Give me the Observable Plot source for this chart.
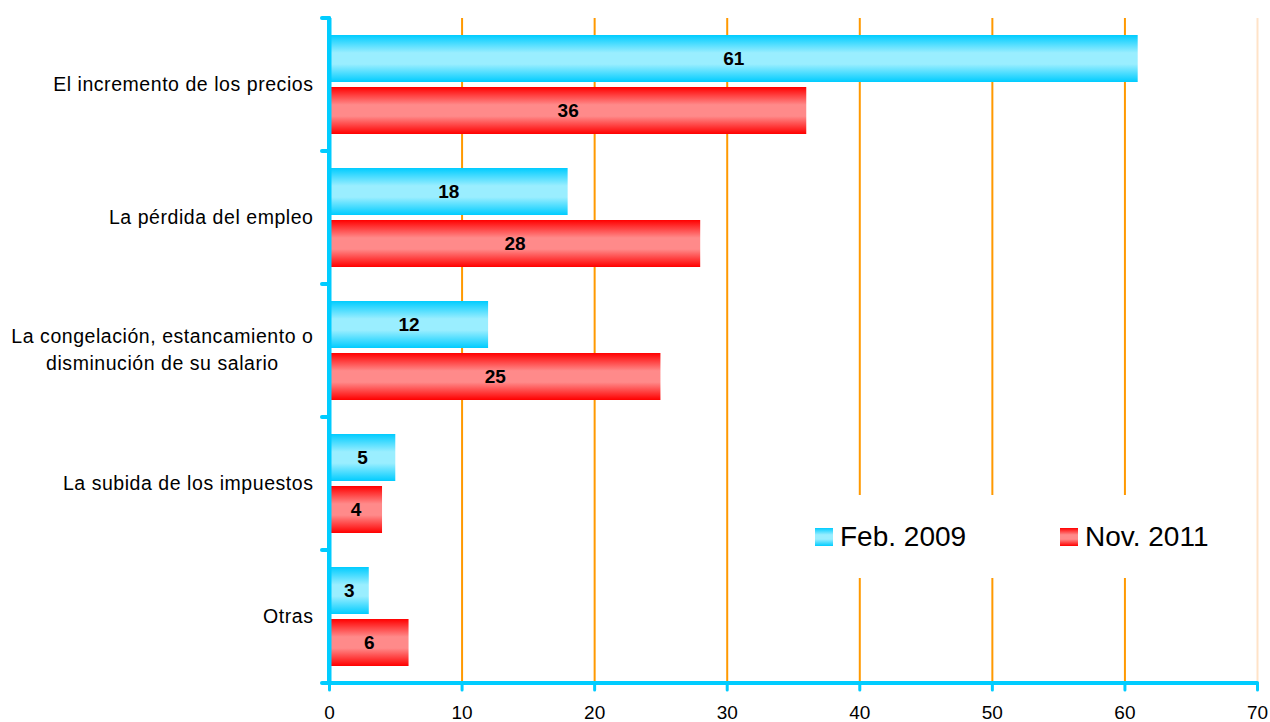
<!DOCTYPE html>
<html><head><meta charset="utf-8">
<script src="https://cdn.jsdelivr.net/npm/d3@7"></script>
<script src="https://cdn.jsdelivr.net/npm/@observablehq/plot@0.6"></script>
<style>
body{margin:0;background:#fff;font-family:"Liberation Sans",Arial,sans-serif;}
#wrap{position:relative;width:1270px;height:722px;overflow:hidden;}
#legend{position:absolute;left:800px;top:495px;width:440px;height:83px;background:#fff;}
.item{position:absolute;top:0;height:83px;display:flex;align-items:center;font-size:28px;color:#000;}
.sw{width:18px;height:18px;margin-right:7px;}
</style></head><body><div id="wrap"></div>
<script>
const categories = [
  "El incremento de los precios",
  "La pérdida del empleo",
  "La congelación, estancamiento o\ndisminución de su salario",
  "La subida de los impuestos",
  "Otras"
];
const series = ["Feb. 2009", "Nov. 2011"];
const feb2009 = [61, 18, 12, 5, 3];
const nov2011 = [36, 28, 25, 4, 6];
const xTicks = [0, 10, 20, 30, 40, 50, 60, 70];
const gridTicks = [10, 20, 30, 40, 50, 60];
const edgeTicks = [70];

const data = categories.flatMap((c, i) => [
  {category: c, series: series[0], value: feb2009[i]},
  {category: c, series: series[1], value: nov2011[i]}
]);

(function() {
const font = '"Liberation Sans", Arial, sans-serif';
const plot = Plot.plot({
  width: 1270, height: 722,
  marginLeft: 329, marginRight: 13, marginTop: 17, marginBottom: 38,
  style: {fontFamily: font, background: "white", color: "black", overflow: "visible"},
  x: {domain: [0, 70]},
  fy: {domain: categories, padding: 0, label: null},
  y: {domain: series, paddingInner: 0.094, paddingOuter: 0.305, axis: null},
  color: {type: "ordinal", domain: series, range: ["url(#gFeb)", "url(#gNov)"]},
  marks: [
    Plot.ruleX(gridTicks, {stroke: "#FF9900", strokeWidth: 2}),
    Plot.ruleX(edgeTicks, {stroke: "#FFE3C8", strokeWidth: 2}),
    Plot.barX(data, {fy: "category", y: "series", x: "value", fill: "series"}),
    Plot.text(data, {fy: "category", y: "series", x: d => d.value / 2, text: "value",
      fontWeight: "bold", fontSize: 19, fill: "black"}),
    Plot.axisFy({anchor: "left", tickSize: 0, tickPadding: 16, fontSize: 19.5, lineHeight: 1.38,
      dy: -3, label: null, fill: "black"}),
    Plot.axisX({ticks: xTicks, tickSize: 7, tickPadding: 15, fontSize: 19, stroke: "#00CCFF",
      strokeWidth: 3, strokeLinecap: "round", label: null, fill: "black"}),
    Plot.ruleX([0], {stroke: "#00CCFF", strokeWidth: 4})
  ]
});

document.getElementById("wrap").appendChild(plot);

const svg = d3.select(plot);
const defs = svg.insert("defs", ":first-child");
function grad(id, edge, mid) {
  const g = defs.append("linearGradient").attr("id", id)
    .attr("x1", 0).attr("y1", 0).attr("x2", 0).attr("y2", 1);
  [[0, edge], [0.38, mid], [0.62, mid], [1, edge]].forEach(([o, c]) =>
    g.append("stop").attr("offset", o).attr("stop-color", c));
}
grad("gFeb", "#00CCFF", "#9AEEFF");
grad("gNov", "#FF0000", "#FF8A8A");

// axis lines and boundary ticks from the library's scales
const fy = plot.scale("fy"), xs = plot.scale("x");
const x0 = xs.apply(0), x1 = xs.apply(70);
const yBottom = fy.apply(categories[categories.length - 1]) + fy.bandwidth;
const yTop = fy.apply(categories[0]);
const ag = svg.append("g").attr("stroke", "#00CCFF").attr("stroke-linecap", "round").attr("stroke-width", 4);
ag.append("line").attr("x1", x0).attr("x2", x0).attr("y1", yTop).attr("y2", yBottom);
categories.forEach(c => ag.append("line").attr("x1", x0 - 7).attr("x2", x0).attr("y1", fy.apply(c)).attr("y2", fy.apply(c)));
ag.append("line").attr("x1", x0 - 7).attr("x2", x1).attr("y1", yBottom).attr("y2", yBottom);

// category label spacing, and center multi-line labels
svg.selectAll("text").each(function() {
  const txt = this.textContent;
  if (categories.some(c => c.replace("\n", "") === txt.replace("\n", ""))) {
    this.style.letterSpacing = "0.55px";
  }
});
svg.selectAll("text").each(function() {
  const t = d3.select(this);
  const spans = t.selectAll("tspan");
  if (spans.size() > 1) {
    const b = this.getBBox();
    t.attr("text-anchor", "middle");
    spans.attr("x", b.x + b.width / 2);
  }
});

// legend
const legend = document.createElement("div");
legend.id = "legend";
const swatches = ["linear-gradient(#00CCFF,#9AEEFF 38%,#9AEEFF 62%,#00CCFF)",
                  "linear-gradient(#FF0000,#FF8A8A 38%,#FF8A8A 62%,#FF0000)"];
const lefts = [15, 260];
series.forEach((s, i) => {
  const it = document.createElement("div");
  it.className = "item";
  it.style.left = lefts[i] + "px";
  const sw = document.createElement("div");
  sw.className = "sw";
  sw.style.background = swatches[i];
  const tx = document.createElement("span");
  tx.textContent = s;
  it.appendChild(sw); it.appendChild(tx);
  legend.appendChild(it);
});
document.getElementById("wrap").appendChild(legend);
})();
</script></body></html>
